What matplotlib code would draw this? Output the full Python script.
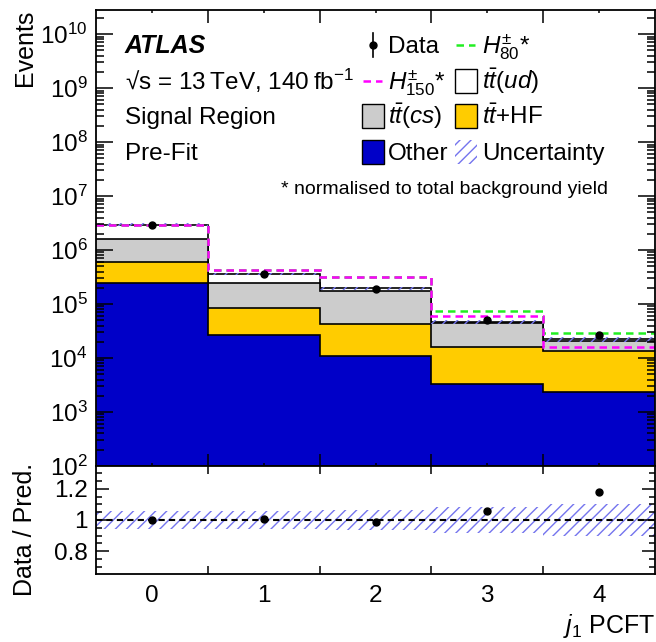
import numpy as np
import matplotlib
matplotlib.use('Agg')
import matplotlib.pyplot as plt
from matplotlib.patches import Rectangle
from matplotlib.lines import Line2D
from matplotlib.ticker import LogLocator, MultipleLocator, FuncFormatter, NullFormatter, NullLocator

# ---------------- data ----------------
categories = ['0', '1', '2', '3', '4']
bkg_other = [2.48e5, 2.67e4, 1.10e4, 3.3e3, 2.35e3]
bkg_ttHF = [3.52e5, 5.63e4, 3.16e4, 1.25e4, 1.135e4]
bkg_ttcs = [1.00e6, 1.67e5, 1.344e5, 2.92e4, 7.0e3]
bkg_ttud = [1.34e6, 1.10e5, 1.80e4, 2.0e3, 1.8e3]
data_counts = [2.935e6, 3.614e5, 1.925e5, 4.96e4, 2.655e4]
sig_H80 = [2.85e6, 4.27e5, 3.10e5, 7.4e4, 2.94e4]
sig_H150 = [2.85e6, 4.27e5, 3.10e5, 6.0e4, 1.62e4]
rel_unc = [0.06, 0.06, 0.065, 0.08, 0.105]

# ---------------- style ----------------
plt.rcParams['font.family'] = ['Liberation Sans', 'DejaVu Sans']
plt.rcParams['mathtext.fontset'] = 'custom'
plt.rcParams['mathtext.rm'] = 'Liberation Sans'
plt.rcParams['mathtext.it'] = 'Liberation Sans:italic'
plt.rcParams['mathtext.bf'] = 'Liberation Sans:bold'
plt.rcParams['hatch.linewidth'] = 1.0

C_OTHER = '#0000c8'
C_HF = '#ffcc00'
C_CS = '#cccccc'
C_UD = 'white'
C_HATCH = '#7474ee'
C_H80 = '#22ee22'
C_H150 = '#ff00ff'
FS = 17.5
HATCH = '///'

W, H = 656, 642
fig = plt.figure(figsize=(W / 100, H / 100), dpi=100)

def fx(x):
    return x / W

def fy(y):
    return 1 - y / H

L, R = 96, 655
ax = fig.add_axes([fx(L), fy(466), (R - L) / W, (466 - 9.5) / H])
ax2 = fig.add_axes([fx(L), fy(574), (R - L) / W, 108 / H], sharex=ax)

n = len(categories)
centres = np.arange(n)
edges = np.arange(n + 1) - 0.5

other = np.array(bkg_other)
hf = np.array(bkg_ttHF)
cs = np.array(bkg_ttcs)
ud = np.array(bkg_ttud)
data = np.array(data_counts)
unc = np.array(rel_unc)
cum = np.cumsum([other, hf, cs, ud], axis=0)
total = cum[-1]

# ---------------- main panel ----------------
for vals, col in [(cum[3], C_UD), (cum[2], C_CS), (cum[1], C_HF), (cum[0], C_OTHER)]:
    ax.stairs(vals, edges, baseline=1e-2, fill=True, facecolor=col, edgecolor='none', lw=0)
    ax.stairs(vals, edges, baseline=None, color='k', lw=1.2)

ax.stairs(total * (1 + unc), edges, baseline=total * (1 - unc), fill=True,
          hatch=HATCH, facecolor='none', edgecolor=C_HATCH, lw=0)
ax.stairs(sig_H80, edges, baseline=None, color=C_H80, lw=1.8, ls=(0, (3, 2)))
ax.stairs(sig_H150, edges, baseline=None, color=C_H150, lw=1.8, ls=(0, (3, 2)))
ax.errorbar(centres, data, yerr=np.sqrt(data), fmt='o', color='k', ms=5,
            elinewidth=1, capsize=0)

ax.set_yscale('log')
ax.set_xlim(-0.5, 4.5)
ax.set_ylim(1e2, 2.85e10)
ax.yaxis.set_major_locator(LogLocator(base=10, numticks=30))
ax.yaxis.set_minor_locator(LogLocator(base=10, subs=np.arange(2, 10), numticks=30))
ax.yaxis.set_minor_formatter(NullFormatter())
ax.set_xticks(edges[1:-1])
ax.xaxis.set_minor_locator(NullLocator())
ax.tick_params(which='both', direction='in', top=True, right=True, labelsize=FS, width=1.1)
ax.tick_params(axis='y', which='major', length=12, pad=6)
ax.tick_params(axis='y', which='minor', length=6)
ax.tick_params(axis='x', which='major', length=9, labelbottom=False)
for s in ax.spines.values():
    s.set_linewidth(1.3)

ax.set_ylabel('Events', loc='top', fontsize=18)
ax.yaxis.set_label_coords(-0.105, 1.0)

# ---------------- ratio panel ----------------
ax2.stairs(1 + unc, edges, baseline=1 - unc, fill=True, hatch=HATCH,
           facecolor='none', edgecolor=C_HATCH, lw=0)
ax2.axhline(1.0, color='k', lw=1.5, ls=(0, (3, 2)))
ratio = data / total
ax2.errorbar(centres, ratio, yerr=np.sqrt(data) / total, fmt='o', color='k', ms=5,
             elinewidth=1, capsize=0)
ax2.set_ylim(0.655, 1.345)
ax2.yaxis.set_major_locator(MultipleLocator(0.2))
ax2.yaxis.set_minor_locator(MultipleLocator(0.05))
ax2.yaxis.set_major_formatter(FuncFormatter(lambda v, p: f'{v:g}'))
ax2.set_xticks(edges[1:-1], labels=[''] * (n - 1))
ax2.set_xticks(centres, labels=categories, minor=True)
ax2.tick_params(which='both', direction='in', top=True, right=True, labelsize=FS, width=1.1)
ax2.tick_params(axis='y', which='major', length=9.5, pad=6)
ax2.tick_params(axis='y', which='minor', length=4.5)
ax2.tick_params(axis='x', which='major', length=6)
ax2.tick_params(axis='x', which='minor', length=0, pad=8)
for s in ax2.spines.values():
    s.set_linewidth(1.3)
ax2.set_ylabel('Data / Pred.', fontsize=18)
ax2.yaxis.set_label_coords(-0.105, 0.417)
ax2.set_xlabel(r'$j_{1}$ PCFT', loc='right', fontsize=18)
ax2.xaxis.set_label_coords(1.0, -0.35)

# ---------------- annotations ----------------
fig.text(fx(125), fy(53), 'ATLAS', fontweight='bold', fontstyle='italic', fontsize=18, va='baseline')
fig.text(fx(125), fy(90), '√s = 13\u2009TeV, 140\u2009fb$^{-1}$', fontsize=FS, va='baseline')
fig.text(fx(125), fy(124), 'Signal Region', fontsize=FS, va='baseline')
fig.text(fx(125), fy(160), 'Pre-Fit', fontsize=FS, va='baseline')
fig.text(fx(608), fy(194), '* normalised to total background yield', fontsize=14,
         ha='right', va='baseline')

# ---------------- legend (manual, two columns) ----------------
rows = [53, 89, 124, 160]
cols = [(362, 388), (455, 482)]

def box(col, row, face, hatch=None, edge='k'):
    x0, _ = cols[col]
    yc = rows[row] - 8.5
    if hatch:
        r = Rectangle((fx(x0), fy(yc + 12)), 22 / W, 24 / H, transform=fig.transFigure,
                      facecolor='none', edgecolor=C_HATCH, hatch=hatch, lw=0)
    else:
        r = Rectangle((fx(x0), fy(yc + 12)), 22 / W, 24 / H, transform=fig.transFigure,
                      facecolor=face, edgecolor=edge, lw=1.0)
    fig.add_artist(r)

def dash(col, row, color):
    x0, _ = cols[col]
    yc = rows[row] - 8.5
    fig.add_artist(Line2D([fx(x0 + 1), fx(x0 + 20)], [fy(yc), fy(yc)], transform=fig.transFigure,
                          color=color, lw=1.8, ls=(0, (3, 2))))

def label(col, row, text):
    _, xt = cols[col]
    fig.text(fx(xt), fy(rows[row]), text, fontsize=FS, va='baseline')

# Data
xd = 373
yc = rows[0] - 8.5
fig.add_artist(Line2D([fx(xd), fx(xd)], [fy(yc - 12), fy(yc + 12)], transform=fig.transFigure,
                      color='k', lw=1.2))
fig.add_artist(Line2D([fx(xd)], [fy(yc)], transform=fig.transFigure, marker='o', ms=5,
                      color='k', ls='none'))
label(0, 0, 'Data')
dash(1, 0, C_H80)
label(1, 0, r'$H^{\pm}_{80}$*')
dash(0, 1, C_H150)
label(0, 1, r'$H^{\pm}_{150}$*')
box(1, 1, C_UD)
label(1, 1, r'$t\bar{t}(ud)$')
box(0, 2, C_CS)
label(0, 2, r'$t\bar{t}(cs)$')
box(1, 2, C_HF)
label(1, 2, r'$t\bar{t}$+HF')
box(0, 3, C_OTHER)
label(0, 3, 'Other')
box(1, 3, None, hatch=HATCH)
label(1, 3, 'Uncertainty')

fig.savefig('out.png', dpi=100)
